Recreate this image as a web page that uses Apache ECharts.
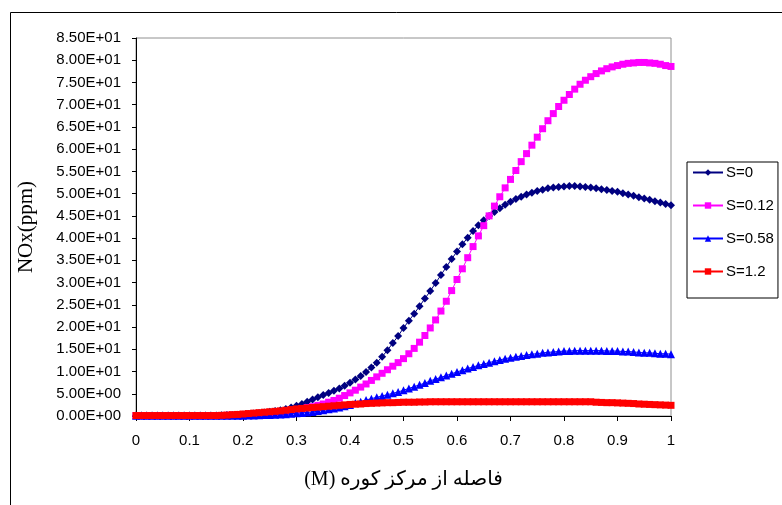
<!DOCTYPE html>
<html>
<head>
<meta charset="utf-8">
<script src="https://cdn.jsdelivr.net/npm/echarts@6/dist/echarts.min.js"></script>
<style>
html,body{margin:0;padding:0;background:#fff;}
#chart{width:782px;height:505px;}
</style>
</head>
<body>
<div id="chart"></div>
<script>
// distance from furnace centre (M)
const distances = [0.00,0.01,0.02,0.03,0.04,0.05,0.06,0.07,0.08,0.09,
0.10,0.11,0.12,0.13,0.14,0.15,0.16,0.17,0.18,0.19,
0.20,0.21,0.22,0.23,0.24,0.25,0.26,0.27,0.28,0.29,
0.30,0.31,0.32,0.33,0.34,0.35,0.36,0.37,0.38,0.39,
0.40,0.41,0.42,0.43,0.44,0.45,0.46,0.47,0.48,0.49,
0.50,0.51,0.52,0.53,0.54,0.55,0.56,0.57,0.58,0.59,
0.60,0.61,0.62,0.63,0.64,0.65,0.66,0.67,0.68,0.69,
0.70,0.71,0.72,0.73,0.74,0.75,0.76,0.77,0.78,0.79,
0.80,0.81,0.82,0.83,0.84,0.85,0.86,0.87,0.88,0.89,
0.90,0.91,0.92,0.93,0.94,0.95,0.96,0.97,0.98,0.99,1.00];

const seriesNames = ["S=0","S=0.12","S=0.58","S=1.2"];

const nox_S0 = [0.1,0.1,0.1,0.1,0.1,0.1,0.1,0.1,0.1,0.1,
0.1,0.1,0.1,0.1,0.1,0.1,0.15,0.2,0.25,0.3,
0.35,0.45,0.55,0.65,0.8,0.95,1.1,1.3,1.6,1.9,
2.3,2.7,3.2,3.7,4.2,4.7,5.2,5.7,6.2,6.8,
7.5,8.2,9.0,9.9,10.9,12.0,13.3,14.8,16.4,18.0,
19.8,21.4,23.0,24.7,26.4,28.1,29.9,31.7,33.5,35.3,
37.0,38.6,40.1,41.6,42.9,44.0,45.0,45.9,46.7,47.5,
48.2,48.8,49.3,49.8,50.2,50.6,50.9,51.2,51.4,51.5,
51.6,51.7,51.7,51.6,51.5,51.4,51.2,51.0,50.8,50.6,
50.4,50.1,49.8,49.5,49.2,48.9,48.6,48.3,48.0,47.7,47.4];

const nox_S012 = [0.1,0.1,0.1,0.1,0.1,0.1,0.1,0.1,0.1,0.1,
0.1,0.1,0.1,0.1,0.1,0.1,0.1,0.15,0.2,0.25,
0.3,0.35,0.4,0.5,0.6,0.7,0.8,0.9,1.0,1.2,
1.4,1.6,1.9,2.1,2.4,2.7,3.1,3.5,4.0,4.6,
5.2,5.8,6.5,7.2,8.0,8.8,9.6,10.4,11.2,12.0,
12.9,14.0,15.2,16.6,18.1,19.8,21.6,23.6,25.8,28.2,
30.7,33.1,35.6,38.1,40.5,42.8,45.0,47.2,49.3,51.3,
53.2,55.2,57.2,59.0,60.9,62.7,64.6,66.4,68.0,69.6,
71.0,72.3,73.5,74.6,75.5,76.3,77.0,77.6,78.1,78.5,
78.8,79.1,79.3,79.4,79.5,79.5,79.4,79.3,79.1,78.8,78.6];

const nox_S058 = [0.05,0.05,0.05,0.05,0.05,0.05,0.05,0.05,0.05,0.05,
0.05,0.05,0.05,0.05,0.05,0.05,0.05,0.05,0.05,0.05,
0.05,0.1,0.1,0.15,0.2,0.25,0.3,0.35,0.4,0.5,
0.6,0.7,0.8,0.9,1.1,1.3,1.5,1.7,1.9,2.2,
2.5,2.9,3.2,3.6,3.9,4.2,4.5,4.8,5.1,5.4,
5.8,6.2,6.6,7.0,7.4,7.9,8.3,8.7,9.1,9.5,
9.9,10.3,10.7,11.0,11.4,11.7,12.0,12.3,12.6,12.9,
13.1,13.3,13.5,13.7,13.9,14.0,14.2,14.3,14.4,14.5,
14.6,14.6,14.7,14.7,14.7,14.7,14.7,14.7,14.6,14.6,
14.6,14.5,14.5,14.4,14.3,14.2,14.2,14.1,14.0,14.0,13.9];

const nox_S12 = [0.1,0.1,0.1,0.1,0.1,0.1,0.1,0.1,0.1,0.1,
0.1,0.1,0.1,0.1,0.1,0.1,0.15,0.2,0.3,0.35,
0.45,0.55,0.65,0.75,0.85,0.95,1.05,1.15,1.3,1.45,
1.6,1.7,1.8,1.9,2.0,2.1,2.2,2.3,2.4,2.5,
2.6,2.65,2.7,2.8,2.85,2.9,2.95,3.0,3.0,3.05,
3.1,3.1,3.1,3.15,3.15,3.2,3.2,3.2,3.2,3.2,
3.2,3.2,3.2,3.2,3.2,3.2,3.2,3.2,3.2,3.2,
3.2,3.2,3.2,3.2,3.2,3.2,3.2,3.2,3.2,3.2,
3.2,3.2,3.2,3.2,3.2,3.2,3.1,3.05,3.0,3.0,
2.95,2.9,2.85,2.8,2.7,2.65,2.6,2.55,2.5,2.45,2.4];

const yTickLabels = ["0.00E+00","5.00E+00","1.00E+01","1.50E+01","2.00E+01","2.50E+01","3.00E+01","3.50E+01","4.00E+01","4.50E+01","5.00E+01","5.50E+01","6.00E+01","6.50E+01","7.00E+01","7.50E+01","8.00E+01","8.50E+01"];
const xTickLabels = ["0","0.1","0.2","0.3","0.4","0.5","0.6","0.7","0.8","0.9","1"];

const xTitle = "(M) فاصله از مرکز کوره";
const yTitle = "NOx(ppm)";

const pairs = vals => distances.map((d, i) => [d, vals[i]]);

const styles = [
  {color:"#000080", symbol:"diamond", size:8},
  {color:"#FF00FF", symbol:"rect", size:7},
  {color:"#0000FF", symbol:"triangle", size:8},
  {color:"#FF0000", symbol:"rect", size:7}
];
const allVals = [nox_S0, nox_S012, nox_S058, nox_S12];

const chart = echarts.init(document.getElementById('chart'), null, {renderer:'canvas'});
const sans = "Liberation Sans, Arial, sans-serif";

chart.setOption({
  animation:false,
  backgroundColor:"#fff",
  graphic:[{
    type:'rect', left:10, top:12, z:-10,
    shape:{x:0, y:0, width:800, height:600},
    style:{fill:'#fff', stroke:'#000', lineWidth:1}
  }],
  grid:{left:136, top:38, right:111, bottom:89, show:true, borderColor:'#909090', borderWidth:1, backgroundColor:'transparent'},
  legend:{
    orient:'vertical', left:687, top:162,
    padding:[3,4,19,5], itemGap:18, itemWidth:30, itemHeight:8,
    backgroundColor:'#fff', borderColor:'#000', borderWidth:1, borderRadius:0,
    textStyle:{fontFamily:sans, fontSize:15, color:'#000', padding:[0,0,0,-2]},
    data:seriesNames
  },
  xAxis:{
    type:'value', min:0, max:1, interval:0.1,
    name:xTitle, nameLocation:'middle', nameGap:54,
    nameTextStyle:{fontFamily:"Liberation Serif, DejaVu Sans, serif", fontSize:20, color:'#000'},
    axisLine:{show:true, onZero:false, lineStyle:{color:'#000', width:1}},
    axisTick:{show:true, inside:false, length:5, lineStyle:{color:'#000'}},
    axisLabel:{margin:17, fontFamily:sans, fontSize:15, color:'#000', formatter:(v)=>xTickLabels[Math.round(v*10)]},
    splitLine:{show:false}
  },
  yAxis:{
    type:'value', min:0, max:85, interval:5,
    name:yTitle, nameLocation:'middle', nameGap:99, nameRotate:90,
    nameTextStyle:{fontFamily:"Liberation Serif, serif", fontSize:21, color:'#000'},
    axisLine:{show:true, onZero:false, lineStyle:{color:'#000', width:1}},
    axisTick:{show:true, inside:false, length:4, lineStyle:{color:'#000'}},
    axisLabel:{margin:15, fontFamily:sans, fontSize:15, color:'#000', formatter:(v)=>yTickLabels[Math.round(v/5)]},
    splitLine:{show:false}
  },
  series: seriesNames.map((n, k) => ({
    name:n, type:'line', data:pairs(allVals[k]),
    symbol:styles[k].symbol, symbolSize:styles[k].size,
    showSymbol:true, showAllSymbol:true,
    itemStyle:{color:styles[k].color},
    lineStyle:{color:styles[k].color, width:1},
    z:2+k
  }))
});
</script>
</body>
</html>
